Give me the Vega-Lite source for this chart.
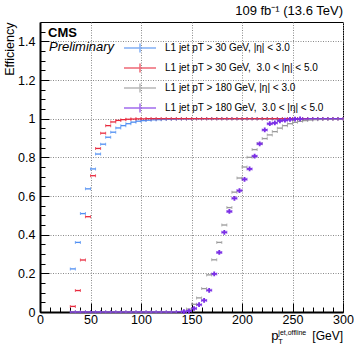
{
  "$schema": "https://vega.github.io/schema/vega-lite/v6.json",
  "width": 303,
  "height": 290,
  "autosize": "none",
  "padding": {"left": 40, "top": 22, "right": 11, "bottom": 33},
  "config": {
    "font": "Liberation Sans",
    "view": {"stroke": "black", "strokeWidth": 1},
    "legend": {
      "orient": "none",
      "legendX": 91,
      "legendY": 17,
      "title": null,
      "padding": 0,
      "labelFont": "Liberation Sans",
      "labelFontSize": 10,
      "labelColor": "black",
      "symbolType": "M-2,0H2M0,-0.55V0.55",
      "symbolSize": 256,
      "symbolStrokeWidth": 1.5,
      "rowPadding": 3,
      "labelOffset": 16
    }
  },
  "title": {
    "text": "109 fb⁻¹ (13.6 TeV)",
    "anchor": "end",
    "frame": "group",
    "font": "Liberation Sans",
    "fontSize": 13,
    "fontWeight": "normal",
    "offset": 4
  },
  "resolve": {"axis": {"x": "independent", "y": "independent"}},
  "datasets": {
    "series": [
      {"s": "a", "name": "L1 jet pT > 30 GeV, |η| < 3.0"},
      {"s": "b", "name": "L1 jet pT > 30 GeV,\u00a0 3.0 < |η| < 5.0"},
      {"s": "c", "name": "L1 jet pT > 180 GeV, |η| < 3.0"},
      {"s": "d", "name": "L1 jet pT > 180 GeV,\u00a0 3.0 < |η| < 5.0"}
    ],
    "pts": [
      {"s":"a","x":32.5,"lo":30,"hi":35,"y":0.223},
      {"s":"a","x":37.5,"lo":35,"hi":40,"y":0.36},
      {"s":"a","x":42.5,"lo":40,"hi":45,"y":0.509},
      {"s":"a","x":47.5,"lo":45,"hi":50,"y":0.637},
      {"s":"a","x":52.5,"lo":50,"hi":55,"y":0.74},
      {"s":"a","x":57.5,"lo":55,"hi":60,"y":0.817},
      {"s":"a","x":62.5,"lo":60,"hi":65,"y":0.868},
      {"s":"a","x":67.5,"lo":65,"hi":70,"y":0.904},
      {"s":"a","x":72.5,"lo":70,"hi":75,"y":0.93},
      {"s":"a","x":77.5,"lo":75,"hi":80,"y":0.952},
      {"s":"a","x":82.5,"lo":80,"hi":85,"y":0.964},
      {"s":"a","x":87.5,"lo":85,"hi":90,"y":0.974},
      {"s":"a","x":92.5,"lo":90,"hi":95,"y":0.982},
      {"s":"a","x":97.5,"lo":95,"hi":100,"y":0.987},
      {"s":"a","x":102.5,"lo":100,"hi":105,"y":0.99},
      {"s":"a","x":107.5,"lo":105,"hi":110,"y":0.992},
      {"s":"a","x":112.5,"lo":110,"hi":115,"y":0.994},
      {"s":"a","x":117.5,"lo":115,"hi":120,"y":0.995},
      {"s":"a","x":122.5,"lo":120,"hi":125,"y":0.996},
      {"s":"a","x":127.5,"lo":125,"hi":130,"y":0.997},
      {"s":"a","x":132.5,"lo":130,"hi":135,"y":0.997},
      {"s":"a","x":137.5,"lo":135,"hi":140,"y":0.998},
      {"s":"a","x":142.5,"lo":140,"hi":145,"y":0.998},
      {"s":"a","x":147.5,"lo":145,"hi":150,"y":0.998},
      {"s":"a","x":152.5,"lo":150,"hi":155,"y":0.999},
      {"s":"a","x":157.5,"lo":155,"hi":160,"y":0.999},
      {"s":"a","x":162.5,"lo":160,"hi":165,"y":0.999},
      {"s":"a","x":167.5,"lo":165,"hi":170,"y":0.999},
      {"s":"a","x":172.5,"lo":170,"hi":175,"y":0.999},
      {"s":"a","x":177.5,"lo":175,"hi":180,"y":0.999},
      {"s":"a","x":182.5,"lo":180,"hi":185,"y":0.999},
      {"s":"a","x":187.5,"lo":185,"hi":190,"y":0.999},
      {"s":"a","x":192.5,"lo":190,"hi":195,"y":0.999},
      {"s":"a","x":197.5,"lo":195,"hi":200,"y":0.999},
      {"s":"a","x":202.5,"lo":200,"hi":205,"y":0.999},
      {"s":"a","x":207.5,"lo":205,"hi":210,"y":0.999},
      {"s":"a","x":212.5,"lo":210,"hi":215,"y":0.999},
      {"s":"a","x":217.5,"lo":215,"hi":220,"y":0.999},
      {"s":"a","x":222.5,"lo":220,"hi":225,"y":0.999},
      {"s":"a","x":227.5,"lo":225,"hi":230,"y":0.999},
      {"s":"a","x":232.5,"lo":230,"hi":235,"y":0.999},
      {"s":"a","x":237.5,"lo":235,"hi":240,"y":0.999},
      {"s":"a","x":242.5,"lo":240,"hi":245,"y":0.999},
      {"s":"a","x":247.5,"lo":245,"hi":250,"y":0.999},
      {"s":"a","x":252.5,"lo":250,"hi":255,"y":0.999},
      {"s":"a","x":257.5,"lo":255,"hi":260,"y":0.999},
      {"s":"a","x":262.5,"lo":260,"hi":265,"y":0.999},
      {"s":"a","x":267.5,"lo":265,"hi":270,"y":0.999},
      {"s":"a","x":272.5,"lo":270,"hi":275,"y":0.999},
      {"s":"a","x":277.5,"lo":275,"hi":280,"y":0.999},
      {"s":"a","x":282.5,"lo":280,"hi":285,"y":0.999},
      {"s":"a","x":287.5,"lo":285,"hi":290,"y":0.999},
      {"s":"a","x":292.5,"lo":290,"hi":295,"y":0.999},
      {"s":"a","x":297.5,"lo":295,"hi":300,"y":0.999},
      {"s":"b","x":32.5,"lo":30,"hi":35,"y":0.029},
      {"s":"b","x":37.5,"lo":35,"hi":40,"y":0.111},
      {"s":"b","x":42.5,"lo":40,"hi":45,"y":0.269},
      {"s":"b","x":47.5,"lo":45,"hi":50,"y":0.493},
      {"s":"b","x":52.5,"lo":50,"hi":55,"y":0.705},
      {"s":"b","x":57.5,"lo":55,"hi":60,"y":0.846},
      {"s":"b","x":62.5,"lo":60,"hi":65,"y":0.925},
      {"s":"b","x":67.5,"lo":65,"hi":70,"y":0.964},
      {"s":"b","x":72.5,"lo":70,"hi":75,"y":0.983},
      {"s":"b","x":77.5,"lo":75,"hi":80,"y":0.991},
      {"s":"b","x":82.5,"lo":80,"hi":85,"y":0.995},
      {"s":"b","x":87.5,"lo":85,"hi":90,"y":0.997},
      {"s":"b","x":92.5,"lo":90,"hi":95,"y":0.998},
      {"s":"b","x":97.5,"lo":95,"hi":100,"y":0.999},
      {"s":"b","x":102.5,"lo":100,"hi":105,"y":0.999},
      {"s":"b","x":107.5,"lo":105,"hi":110,"y":1.0},
      {"s":"b","x":112.5,"lo":110,"hi":115,"y":1.0},
      {"s":"b","x":117.5,"lo":115,"hi":120,"y":1.0},
      {"s":"b","x":122.5,"lo":120,"hi":125,"y":1.0},
      {"s":"b","x":127.5,"lo":125,"hi":130,"y":1.0},
      {"s":"b","x":132.5,"lo":130,"hi":135,"y":1.0},
      {"s":"b","x":137.5,"lo":135,"hi":140,"y":1.0},
      {"s":"b","x":142.5,"lo":140,"hi":145,"y":1.0},
      {"s":"b","x":147.5,"lo":145,"hi":150,"y":1.0},
      {"s":"b","x":152.5,"lo":150,"hi":155,"y":1.0},
      {"s":"b","x":157.5,"lo":155,"hi":160,"y":1.0},
      {"s":"b","x":162.5,"lo":160,"hi":165,"y":1.0},
      {"s":"b","x":167.5,"lo":165,"hi":170,"y":1.0},
      {"s":"b","x":172.5,"lo":170,"hi":175,"y":1.0},
      {"s":"b","x":177.5,"lo":175,"hi":180,"y":1.0},
      {"s":"b","x":182.5,"lo":180,"hi":185,"y":1.0},
      {"s":"b","x":187.5,"lo":185,"hi":190,"y":1.0},
      {"s":"b","x":192.5,"lo":190,"hi":195,"y":1.0},
      {"s":"b","x":197.5,"lo":195,"hi":200,"y":1.0},
      {"s":"b","x":202.5,"lo":200,"hi":205,"y":1.0},
      {"s":"b","x":207.5,"lo":205,"hi":210,"y":1.0},
      {"s":"b","x":212.5,"lo":210,"hi":215,"y":1.0},
      {"s":"b","x":217.5,"lo":215,"hi":220,"y":1.0},
      {"s":"b","x":222.5,"lo":220,"hi":225,"y":1.0},
      {"s":"b","x":227.5,"lo":225,"hi":230,"y":1.0},
      {"s":"b","x":232.5,"lo":230,"hi":235,"y":1.0},
      {"s":"b","x":237.5,"lo":235,"hi":240,"y":1.0},
      {"s":"b","x":242.5,"lo":240,"hi":245,"y":1.0},
      {"s":"b","x":247.5,"lo":245,"hi":250,"y":1.0},
      {"s":"b","x":252.5,"lo":250,"hi":255,"y":1.0},
      {"s":"b","x":257.5,"lo":255,"hi":260,"y":1.0},
      {"s":"b","x":262.5,"lo":260,"hi":265,"y":1.0},
      {"s":"b","x":267.5,"lo":265,"hi":270,"y":1.0},
      {"s":"b","x":272.5,"lo":270,"hi":275,"y":1.0},
      {"s":"b","x":277.5,"lo":275,"hi":280,"y":1.0},
      {"s":"b","x":282.5,"lo":280,"hi":285,"y":1.0},
      {"s":"b","x":287.5,"lo":285,"hi":290,"y":1.0},
      {"s":"b","x":292.5,"lo":290,"hi":295,"y":1.0},
      {"s":"b","x":297.5,"lo":295,"hi":300,"y":1.0},
      {"s":"c","x":32.5,"lo":30,"hi":35,"y":0},
      {"s":"c","x":37.5,"lo":35,"hi":40,"y":0},
      {"s":"c","x":42.5,"lo":40,"hi":45,"y":0},
      {"s":"c","x":47.5,"lo":45,"hi":50,"y":0},
      {"s":"c","x":52.5,"lo":50,"hi":55,"y":0},
      {"s":"c","x":57.5,"lo":55,"hi":60,"y":0},
      {"s":"c","x":62.5,"lo":60,"hi":65,"y":0},
      {"s":"c","x":67.5,"lo":65,"hi":70,"y":0},
      {"s":"c","x":72.5,"lo":70,"hi":75,"y":0},
      {"s":"c","x":77.5,"lo":75,"hi":80,"y":0},
      {"s":"c","x":82.5,"lo":80,"hi":85,"y":0},
      {"s":"c","x":87.5,"lo":85,"hi":90,"y":0},
      {"s":"c","x":92.5,"lo":90,"hi":95,"y":0},
      {"s":"c","x":97.5,"lo":95,"hi":100,"y":0},
      {"s":"c","x":102.5,"lo":100,"hi":105,"y":0},
      {"s":"c","x":107.5,"lo":105,"hi":110,"y":0},
      {"s":"c","x":112.5,"lo":110,"hi":115,"y":0},
      {"s":"c","x":117.5,"lo":115,"hi":120,"y":0},
      {"s":"c","x":122.5,"lo":120,"hi":125,"y":0},
      {"s":"c","x":127.5,"lo":125,"hi":130,"y":0},
      {"s":"c","x":132.5,"lo":130,"hi":135,"y":0.001},
      {"s":"c","x":137.5,"lo":135,"hi":140,"y":0.002},
      {"s":"c","x":142.5,"lo":140,"hi":145,"y":0.004},
      {"s":"c","x":147.5,"lo":145,"hi":150,"y":0.015},
      {"s":"c","x":152.5,"lo":150,"hi":155,"y":0.04},
      {"s":"c","x":157.5,"lo":155,"hi":160,"y":0.073},
      {"s":"c","x":162.5,"lo":160,"hi":165,"y":0.121},
      {"s":"c","x":167.5,"lo":165,"hi":170,"y":0.192},
      {"s":"c","x":172.5,"lo":170,"hi":175,"y":0.27},
      {"s":"c","x":177.5,"lo":175,"hi":180,"y":0.36},
      {"s":"c","x":182.5,"lo":180,"hi":185,"y":0.45},
      {"s":"c","x":187.5,"lo":185,"hi":190,"y":0.54},
      {"s":"c","x":192.5,"lo":190,"hi":195,"y":0.62},
      {"s":"c","x":197.5,"lo":195,"hi":200,"y":0.693},
      {"s":"c","x":202.5,"lo":200,"hi":205,"y":0.75},
      {"s":"c","x":207.5,"lo":205,"hi":210,"y":0.8},
      {"s":"c","x":212.5,"lo":210,"hi":215,"y":0.84},
      {"s":"c","x":217.5,"lo":215,"hi":220,"y":0.872},
      {"s":"c","x":222.5,"lo":220,"hi":225,"y":0.897},
      {"s":"c","x":227.5,"lo":225,"hi":230,"y":0.916},
      {"s":"c","x":232.5,"lo":230,"hi":235,"y":0.933},
      {"s":"c","x":237.5,"lo":235,"hi":240,"y":0.951},
      {"s":"c","x":242.5,"lo":240,"hi":245,"y":0.964},
      {"s":"c","x":247.5,"lo":245,"hi":250,"y":0.974},
      {"s":"c","x":252.5,"lo":250,"hi":255,"y":0.981},
      {"s":"c","x":257.5,"lo":255,"hi":260,"y":0.986},
      {"s":"c","x":262.5,"lo":260,"hi":265,"y":0.99},
      {"s":"c","x":267.5,"lo":265,"hi":270,"y":0.993},
      {"s":"c","x":272.5,"lo":270,"hi":275,"y":0.995},
      {"s":"c","x":277.5,"lo":275,"hi":280,"y":0.996},
      {"s":"c","x":282.5,"lo":280,"hi":285,"y":0.997},
      {"s":"c","x":287.5,"lo":285,"hi":290,"y":0.998},
      {"s":"c","x":292.5,"lo":290,"hi":295,"y":0.998},
      {"s":"c","x":297.5,"lo":295,"hi":300,"y":0.999},
      {"s":"d","x":32.5,"lo":30,"hi":35,"y":0},
      {"s":"d","x":37.5,"lo":35,"hi":40,"y":0},
      {"s":"d","x":42.5,"lo":40,"hi":45,"y":0},
      {"s":"d","x":47.5,"lo":45,"hi":50,"y":0},
      {"s":"d","x":52.5,"lo":50,"hi":55,"y":0},
      {"s":"d","x":57.5,"lo":55,"hi":60,"y":0},
      {"s":"d","x":62.5,"lo":60,"hi":65,"y":0},
      {"s":"d","x":67.5,"lo":65,"hi":70,"y":0},
      {"s":"d","x":72.5,"lo":70,"hi":75,"y":0},
      {"s":"d","x":77.5,"lo":75,"hi":80,"y":0},
      {"s":"d","x":82.5,"lo":80,"hi":85,"y":0},
      {"s":"d","x":87.5,"lo":85,"hi":90,"y":0},
      {"s":"d","x":92.5,"lo":90,"hi":95,"y":0},
      {"s":"d","x":97.5,"lo":95,"hi":100,"y":0},
      {"s":"d","x":102.5,"lo":100,"hi":105,"y":0},
      {"s":"d","x":107.5,"lo":105,"hi":110,"y":0},
      {"s":"d","x":112.5,"lo":110,"hi":115,"y":0},
      {"s":"d","x":117.5,"lo":115,"hi":120,"y":0},
      {"s":"d","x":122.5,"lo":120,"hi":125,"y":0},
      {"s":"d","x":127.5,"lo":125,"hi":130,"y":0},
      {"s":"d","x":132.5,"lo":130,"hi":135,"y":0},
      {"s":"d","x":137.5,"lo":135,"hi":140,"y":0.001},
      {"s":"d","x":142.5,"lo":140,"hi":145,"y":0.002},
      {"s":"d","x":147.5,"lo":145,"hi":150,"y":0.005},
      {"s":"d","x":152.5,"lo":150,"hi":155,"y":0.018},
      {"s":"d","x":157.5,"lo":155,"hi":160,"y":0.038},
      {"s":"d","x":162.5,"lo":160,"hi":165,"y":0.06},
      {"s":"d","x":167.5,"lo":165,"hi":170,"y":0.112},
      {"s":"d","x":172.5,"lo":170,"hi":175,"y":0.197},
      {"s":"d","x":177.5,"lo":175,"hi":180,"y":0.308},
      {"s":"d","x":182.5,"lo":180,"hi":185,"y":0.412},
      {"s":"d","x":187.5,"lo":185,"hi":190,"y":0.52},
      {"s":"d","x":192.5,"lo":190,"hi":195,"y":0.588},
      {"s":"d","x":197.5,"lo":195,"hi":200,"y":0.628},
      {"s":"d","x":202.5,"lo":200,"hi":205,"y":0.686},
      {"s":"d","x":207.5,"lo":205,"hi":210,"y":0.74},
      {"s":"d","x":212.5,"lo":210,"hi":215,"y":0.806},
      {"s":"d","x":217.5,"lo":215,"hi":220,"y":0.87},
      {"s":"d","x":222.5,"lo":220,"hi":225,"y":0.942},
      {"s":"d","x":227.5,"lo":225,"hi":230,"y":0.974},
      {"s":"d","x":232.5,"lo":230,"hi":235,"y":0.978},
      {"s":"d","x":237.5,"lo":235,"hi":240,"y":0.989},
      {"s":"d","x":242.5,"lo":240,"hi":245,"y":0.992},
      {"s":"d","x":247.5,"lo":245,"hi":250,"y":0.996},
      {"s":"d","x":252.5,"lo":250,"hi":255,"y":0.998},
      {"s":"d","x":257.5,"lo":255,"hi":260,"y":0.999},
      {"s":"d","x":262.5,"lo":260,"hi":265,"y":0.999},
      {"s":"d","x":267.5,"lo":265,"hi":270,"y":1.0},
      {"s":"d","x":272.5,"lo":270,"hi":275,"y":1.0},
      {"s":"d","x":277.5,"lo":275,"hi":280,"y":1.0},
      {"s":"d","x":282.5,"lo":280,"hi":285,"y":1.0},
      {"s":"d","x":287.5,"lo":285,"hi":290,"y":1.0},
      {"s":"d","x":292.5,"lo":290,"hi":295,"y":1.0},
      {"s":"d","x":297.5,"lo":295,"hi":300,"y":1.0}
    ]
  },
  "layer": [
    {
      "data": {"name": "pts"},
      "transform": [{"lookup": "s", "from": {"data": {"name": "series"}, "key": "s", "fields": ["name"]}}],
      "mark": {"type": "rule", "strokeWidth": 1.3},
      "encoding": {
        "x": {
          "field": "lo", "type": "quantitative",
          "scale": {"domain": [0, 300], "nice": false},
          "axis": {
            "orient": "bottom",
            "title": null,
            "values": [0, 50, 100, 150, 200, 250, 300],
            "format": "d",
            "labelFontSize": 12.5,
            "labelColor": "black",
            "labelPadding": 10,
            "labelFlush": false,
            "labelOverlap": false,
            "tickColor": "black",
            "tickSize": -9,
            "domainColor": "black",
            "domainWidth": 2,
            "grid": true,
            "gridColor": "#8a8a8a",
            "gridDash": [1, 1.5]
          }
        },
        "x2": {"field": "hi"},
        "y": {
          "field": "y", "type": "quantitative",
          "scale": {"domain": [0, 1.5], "nice": false},
          "axis": {
            "orient": "left",
            "title": "Efficiency",
            "titleAnchor": "end",
            "titleFontSize": 12.5,
            "titleFontWeight": "normal",
            "titleColor": "black",
            "titlePadding": 1,
            "values": [0, 0.2, 0.4, 0.6, 0.8, 1, 1.2, 1.4],
            "labelExpr": "format(datum.value, '.1~f')",
            "labelFontSize": 12.5,
            "labelColor": "black",
            "labelPadding": 14,
            "labelFlush": false,
            "labelOverlap": false,
            "tickColor": "black",
            "tickSize": -9,
            "domainColor": "black",
            "domainWidth": 2,
            "grid": true,
            "gridColor": "#8a8a8a",
            "gridDash": [1, 1.5]
          }
        },
        "color": {
          "field": "name", "type": "nominal",
          "scale": {
            "domain": ["L1 jet pT > 30 GeV, |η| < 3.0", "L1 jet pT > 30 GeV,\u00a0 3.0 < |η| < 5.0", "L1 jet pT > 180 GeV, |η| < 3.0", "L1 jet pT > 180 GeV,\u00a0 3.0 < |η| < 5.0"],
            "range": ["#4f8ef2", "#e8283c", "#9a9a9a", "#7b2fe6"]
          },
          "legend": {"symbolType": "M-2,0H2M0,-0.55V0.55"}
        }
      }
    },
    {
      "data": {"name": "pts"},
      "transform": [{"lookup": "s", "from": {"data": {"name": "series"}, "key": "s", "fields": ["name"]}}],
      "mark": {"type": "tick", "orient": "vertical", "size": 3, "thickness": 1},
      "encoding": {
        "x": {
          "field": "lo", "type": "quantitative",
          "axis": {
            "orient": "bottom",
            "title": null,
            "values": [10,20,30,40,60,70,80,90,110,120,130,140,160,170,180,190,210,220,230,240,260,270,280,290],
            "labels": false,
            "domain": false,
            "grid": false,
            "tickColor": "black",
            "tickSize": -5
          }
        },
        "y": {
          "field": "y", "type": "quantitative",
          "axis": {
            "orient": "left",
            "title": null,
            "values": [0.05,0.1,0.15,0.25,0.3,0.35,0.45,0.5,0.55,0.65,0.7,0.75,0.85,0.9,0.95,1.05,1.1,1.15,1.25,1.3,1.35,1.45],
            "labels": false,
            "domain": false,
            "grid": false,
            "tickColor": "black",
            "tickSize": -5
          }
        },
        "color": {"field": "name", "type": "nominal"}
      }
    },
    {
      "data": {"name": "pts"},
      "transform": [{"lookup": "s", "from": {"data": {"name": "series"}, "key": "s", "fields": ["name"]}}],
      "mark": {"type": "tick", "orient": "vertical", "size": 3, "thickness": 1},
      "encoding": {
        "x": {"field": "hi", "type": "quantitative", "axis": null},
        "y": {"field": "y", "type": "quantitative", "axis": null},
        "color": {"field": "name", "type": "nominal"}
      }
    },
    {
      "data": {"name": "pts"},
      "transform": [{"filter": "datum.s === 'd' && datum.x > 140 && datum.x < 260"}],
      "mark": {"type": "point", "shape": "cross", "size": 22, "filled": true, "color": "#7b2fe6", "opacity": 1},
      "encoding": {
        "x": {"field": "x", "type": "quantitative", "axis": null},
        "y": {"field": "y", "type": "quantitative", "axis": null}
      }
    },
    {
      "data": {"values": [{"t": "CMS"}]},
      "mark": {"type": "text", "align": "left", "baseline": "alphabetic", "fontSize": 13, "fontWeight": "bold", "font": "Liberation Sans", "color": "black"},
      "encoding": {"x": {"datum": 8, "type": "quantitative", "axis": null}, "y": {"datum": 1.425, "type": "quantitative", "axis": null}, "text": {"field": "t"}}
    },
    {
      "data": {"values": [{"t": "Preliminary"}]},
      "mark": {"type": "text", "align": "left", "baseline": "alphabetic", "fontSize": 13, "fontStyle": "italic", "font": "Liberation Sans", "color": "black"},
      "encoding": {"x": {"datum": 9, "type": "quantitative", "axis": null}, "y": {"datum": 1.352, "type": "quantitative", "axis": null}, "text": {"field": "t"}}
    },
    {
      "data": {"values": [{"t": "p"}]},
      "mark": {"type": "text", "align": "left", "baseline": "alphabetic", "fontSize": 13, "font": "Liberation Sans", "color": "black"},
      "encoding": {"x": {"datum": 229, "type": "quantitative", "axis": null}, "y": {"datum": -0.145, "type": "quantitative", "axis": null}, "text": {"field": "t"}}
    },
    {
      "data": {"values": [{"t": "T"}]},
      "mark": {"type": "text", "align": "left", "baseline": "alphabetic", "fontSize": 7.5, "font": "Liberation Sans", "color": "black"},
      "encoding": {"x": {"datum": 236, "type": "quantitative", "axis": null}, "y": {"datum": -0.165, "type": "quantitative", "axis": null}, "text": {"field": "t"}}
    },
    {
      "data": {"values": [{"t": "jet,offline"}]},
      "mark": {"type": "text", "align": "left", "baseline": "alphabetic", "fontSize": 7, "font": "Liberation Sans", "color": "black"},
      "encoding": {"x": {"datum": 236, "type": "quantitative", "axis": null}, "y": {"datum": -0.118, "type": "quantitative", "axis": null}, "text": {"field": "t"}}
    },
    {
      "data": {"values": [{"t": "[GeV]"}]},
      "mark": {"type": "text", "align": "right", "baseline": "alphabetic", "fontSize": 12, "font": "Liberation Sans", "color": "black"},
      "encoding": {"x": {"datum": 300, "type": "quantitative", "axis": null}, "y": {"datum": -0.145, "type": "quantitative", "axis": null}, "text": {"field": "t"}}
    }
  ]
}
